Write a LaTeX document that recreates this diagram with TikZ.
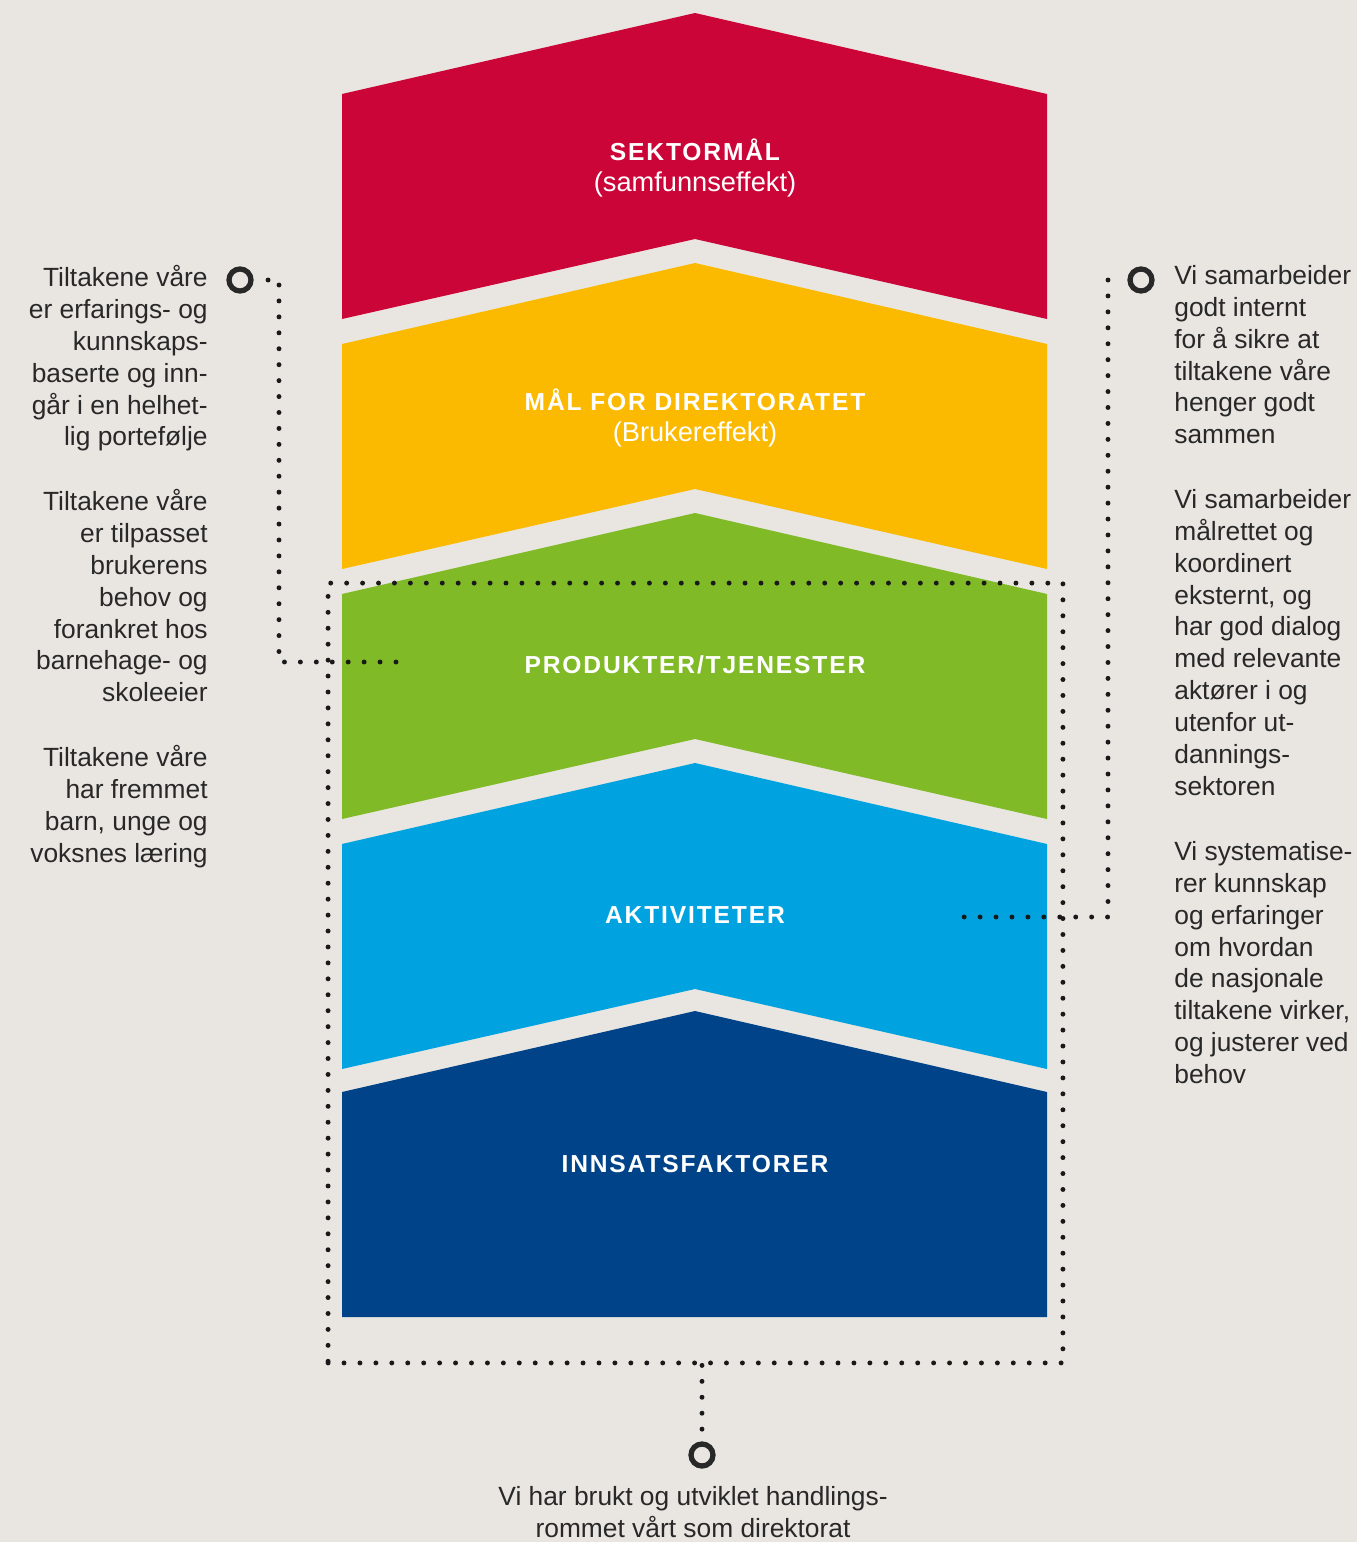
\documentclass[tikz,border=0pt]{standalone}
\usepackage{fontspec}
\setmainfont{Liberation Sans}
\newfontfamily\sperret[LetterSpace=7.5]{Liberation Sans}
\usetikzlibrary{positioning}

\definecolor{bakgrunn}{RGB}{233,230,225}
\definecolor{sektorrod}{RGB}{204,5,56}
\definecolor{maalgul}{RGB}{251,186,0}
\definecolor{produktgronn}{RGB}{128,186,39}
\definecolor{aktivitetblaa}{RGB}{0,163,224}
\definecolor{innsatsblaa}{RGB}{0,67,136}
\definecolor{tekstgraa}{RGB}{40,40,40}
\definecolor{prikkgraa}{RGB}{25,25,25}

\newcommand{\undertittel}[1]{{\normalfont\fontsize{15.5}{18.14}\selectfont #1}}

\tikzset{
  tittel/.style={text=white, align=center, inner sep=0pt,
    font=\sperret\bfseries\fontsize{14}{18.14}\selectfont},
  tekst/.style={text=tekstgraa, inner sep=0pt,
    font=\fontsize{15}{18.14}\selectfont},
  venstretekst/.style={tekst, align=right, anchor=north east},
  hoyretekst/.style={tekst, align=left, anchor=north west},
  prikk/.style={draw=prikkgraa, line width=2.8pt, line cap=round,
    dash pattern=on 0pt off 9.07pt},
  ring/.style={circle, draw=tekstgraa, line width=3pt,
    minimum size=0.44cm, inner sep=0pt}
}

\begin{document}
\begin{tikzpicture}[x=0.02cm, y=-0.02cm]
  \fill[bakgrunn] (0,0) rectangle (1357,1542);
  \useasboundingbox (0,0) rectangle (1357,1542);

  \foreach \farge [count=\n from 0] in {sektorrod, maalgul, produktgronn, aktivitetblaa} {
    \fill[\farge] (342,{94+250*\n}) -- (695,{13+250*\n}) -- (1047,{94+250*\n})
      -- (1047,{319+250*\n}) -- (695,{239+250*\n}) -- (342,{319+250*\n}) -- cycle;
  }
  \fill[innsatsblaa] (342,1092) -- (695,1011) -- (1047,1092) -- (1047,1317) -- (342,1317) -- cycle;

  \node[tittel] (sektor) at (695,168) {SEKTORMÅL\\\undertittel{(samfunnseffekt)}};
  \node[tittel] (maal) at (695,418) {MÅL FOR DIREKTORATET\\\undertittel{(Brukereffekt)}};
  \node[tittel] (produkt) at (695,665) {PRODUKTER/TJENESTER};
  \node[tittel] (aktivitet) at (695,915) {AKTIVITETER};
  \node[tittel] (innsats) at (695,1164) {INNSATSFAKTORER};

  \node[venstretekst] (kunnskap) at (208,265) {Tiltakene våre\\er erfarings- og\\kunnskaps-\\baserte og inn-\\går i en helhet-\\lig portefølje};
  \node[venstretekst] (tilpasset) at (208,489) {Tiltakene våre\\er tilpasset\\brukerens\\behov og\\forankret hos\\barnehage- og\\skoleeier};
  \node[venstretekst] (laering) at (208,745) {Tiltakene våre\\har fremmet\\barn, unge og\\voksnes læring};

  \node[hoyretekst] (internt) at (1174,265) {Vi samarbeider\\godt internt\\for å sikre at\\tiltakene våre\\henger godt\\sammen};
  \node[hoyretekst] (eksternt) at (1174,489) {Vi samarbeider\\målrettet og\\koordinert\\eksternt, og\\har god dialog\\med relevante\\aktører i og\\utenfor ut-\\dannings-\\sektoren};
  \node[hoyretekst] (systematisk) at (1174,841) {Vi systematise-\\rer kunnskap\\og erfaringer\\om hvordan\\de nasjonale\\tiltakene virker,\\og justerer ved\\behov};

  \node[tekst, align=center, anchor=north] (handlingsrom) at (693,1486) {Vi har brukt og utviklet handlings-\\rommet vårt som direktorat};

  \node[prikk, inner sep=0pt, minimum width=14.7cm, minimum height=15.6cm] (ramme) at (695.5,973) {};

  \node[ring] (venstre) at (240,280) {};
  \node[ring] (hoyre) at (1141,280) {};
  \node[ring] (nedre) at (702,1455) {};

  \coordinate (vknekk) at (279,280);
  \coordinate (vslutt) at (396,662);
  \coordinate (hknekk) at (1108,280);
  \coordinate (hslutt) at (963,917);

  \draw[prikk] (vslutt) -| (vknekk) -- (venstre);
  \draw[prikk] (hknekk) |- (hslutt);
  \draw[prikk] (ramme.south -| nedre) -- (nedre);
\end{tikzpicture}
\end{document}
